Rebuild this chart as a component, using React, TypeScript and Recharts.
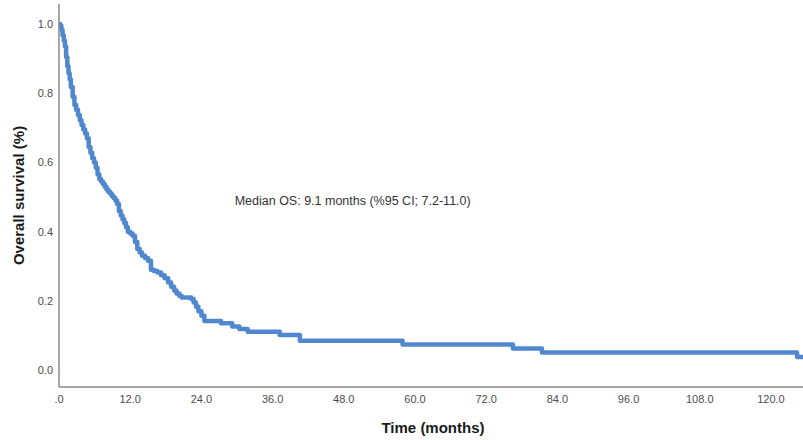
import React from "react";
import {
  LineChart,
  Line,
  XAxis,
  YAxis,
  ReferenceDot,
} from "recharts";

// Kaplan-Meier estimate (months, survival proportion)
const months = [
  0, 0.2, 0.4, 0.6, 0.8, 1.0, 1.2, 1.4, 1.6, 1.8, 2.0, 2.3, 2.6, 2.9, 3.2, 3.5,
  3.8, 4.1, 4.4, 4.7, 5.0, 5.3, 5.6, 5.9, 6.2, 6.5, 6.8, 7.1, 7.4, 7.7, 8.0, 8.3,
  8.6, 8.9, 9.2, 9.5, 9.8, 10.1, 10.4, 10.7, 11.0, 11.3, 11.6, 12.0, 12.4, 12.8,
  13.2, 13.6, 14.0, 14.5, 15.0, 15.5, 16.0, 16.6, 17.2, 17.8, 18.4, 18.9, 19.4,
  19.8, 20.3, 20.7, 22.3, 22.7, 23.1, 23.5, 24.0, 24.5, 27.3, 29.2, 30.4, 31.8,
  37.2, 40.6, 57.9, 76.5, 81.4, 124.4, 125.4,
];

const survival = [
  1.0, 0.995, 0.983, 0.968, 0.952, 0.935, 0.905, 0.878, 0.858, 0.84, 0.818, 0.79,
  0.766, 0.752, 0.737, 0.722, 0.708, 0.695, 0.684, 0.67, 0.645, 0.628, 0.612, 0.6,
  0.585, 0.565, 0.552, 0.545, 0.538, 0.53, 0.522, 0.515, 0.51, 0.503, 0.497, 0.49,
  0.48, 0.46, 0.447, 0.436, 0.425, 0.413, 0.4, 0.395, 0.388, 0.37, 0.35, 0.34,
  0.33, 0.324, 0.316, 0.29, 0.286, 0.282, 0.274, 0.265, 0.253, 0.241, 0.23, 0.221,
  0.214, 0.21, 0.205, 0.195, 0.183, 0.17, 0.157, 0.142, 0.135, 0.126, 0.119,
  0.111, 0.101, 0.085, 0.074, 0.062, 0.051, 0.038, 0.038,
];

const xTicks = [0, 12, 24, 36, 48, 60, 72, 84, 96, 108, 120];
const yTicks = [0, 0.2, 0.4, 0.6, 0.8, 1.0];

const medianText = "Median OS: 9.1 months (%95 CI; 7.2-11.0)";

const data = months.map((t, i) => ({ t, s: survival[i] }));

const FONT = '"Liberation Sans", Arial, sans-serif';
const AXIS_COLOR = "#8a8a8a";
const LINE_COLOR = "#5088cf";

const YTitle = ({ viewBox }: any) => {
  const cx = viewBox.x + 18;
  const cy = viewBox.y + viewBox.height / 2;
  return (
    <text
      x={cx}
      y={cy}
      transform={`rotate(-90, ${cx}, ${cy})`}
      textAnchor="middle"
      dominantBaseline="central"
      fontFamily={FONT}
      fontWeight="bold"
      fontSize={15}
      fill="#1a1a1a"
    >
      Overall survival (%)
    </text>
  );
};

const XTitle = ({ viewBox }: any) => {
  const cx = viewBox.x + viewBox.width / 2 + 2;
  const cy = viewBox.y + 40;
  return (
    <text
      x={cx}
      y={cy}
      textAnchor="middle"
      dominantBaseline="central"
      fontFamily={FONT}
      fontWeight="bold"
      fontSize={15}
      fill="#1a1a1a"
    >
      Time (months)
    </text>
  );
};

export default function App() {
  return (
    <div
      style={{
        position: "absolute",
        left: 0,
        top: 0,
        width: 803,
        height: 440,
        background: "#fff",
      }}
    >
      <LineChart
        width={803}
        height={440}
        data={data}
        margin={{ top: 4, right: 0, left: 0, bottom: 0 }}
      >
        <XAxis
          dataKey="t"
          type="number"
          domain={[0, 125.4]}
          allowDataOverflow
          ticks={xTicks}
          tickFormatter={(v: number) => (v === 0 ? ".0" : v.toFixed(1))}
          tick={{ fontSize: 11, fill: "#4d4d4d", fontFamily: FONT }}
          tickLine={false}
          axisLine={{ stroke: AXIS_COLOR, strokeWidth: 1.5 }}
          height={53}
          label={<XTitle />}
        />
        <YAxis
          type="number"
          domain={[-0.049, 1.058]}
          allowDataOverflow
          ticks={yTicks}
          tickFormatter={(v: number) => v.toFixed(1)}
          tick={{ fontSize: 11, fill: "#4d4d4d", fontFamily: FONT }}
          tickLine={false}
          tickMargin={0}
          axisLine={{ stroke: AXIS_COLOR, strokeWidth: 1.5 }}
          width={59}
          label={<YTitle />}
        />
        <ReferenceDot
          x={49.5}
          y={0.49}
          r={1}
          fill="none"
          stroke="none"
          label={{
            value: medianText,
            position: "center",
            fontSize: 12.5,
            fill: "#333",
            fontFamily: FONT,
          }}
        />
        <Line
          type="stepAfter"
          dataKey="s"
          stroke={LINE_COLOR}
          strokeWidth={4.5}
          strokeLinejoin="round"
          dot={false}
          activeDot={false}
          isAnimationActive={false}
        />
      </LineChart>
    </div>
  );
}
